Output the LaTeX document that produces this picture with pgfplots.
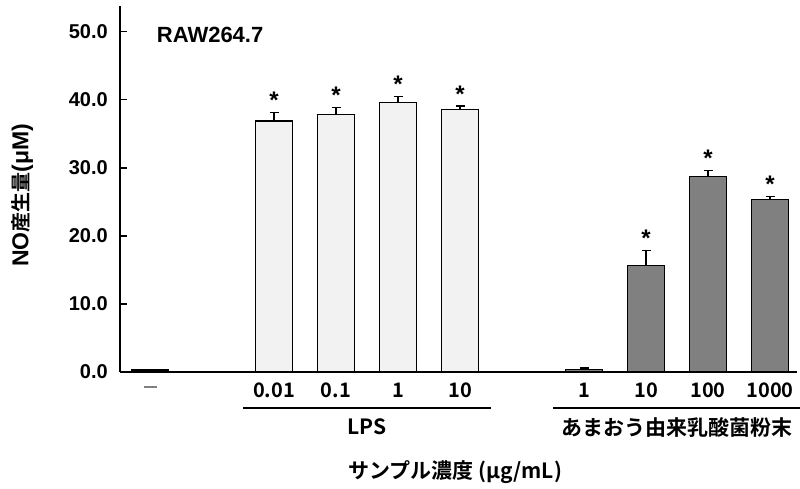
\documentclass[border=0pt]{standalone}
\usepackage{pgfplots}
\pgfplotsset{compat=1.18}
\usepackage{fontspec}
\newfontfamily\jp{Noto Sans CJK JP}[BoldFont={* Bold}]
\newfontfamily\ar{Liberation Sans}
\newcommand\fs{\fontsize{20}{22}\selectfont}
\newcommand\fj{\fontsize{21}{23}\selectfont}
\definecolor{lightbar}{HTML}{F2F2F2}
\definecolor{darkbar}{HTML}{808080}
\pgfplotsset{myerr/.style={
  error bars/y dir=plus, error bars/y explicit, error bars/error mark=|,
  error bars/error mark options={line width=1.2pt, mark size=4.5pt, black},
  error bars/error bar style={line width=1.2pt, black}}}
\begin{document}
\begin{tikzpicture}
\path[use as bounding box] (-120pt,-117pt) rectangle (680pt,372pt);
\begin{axis}[
  scale only axis, width=677pt, height=366pt,
  xmin=-0.484, xmax=10.435, ymin=0, ymax=53.8,
  axis x line*=bottom, axis y line*=left,
  axis line style={line width=1.2pt, -},
  ytick={0,10,20,30,40,50},
  yticklabels={0.0,10.0,20.0,30.0,40.0,50.0},
  yticklabel style={font=\ar\bfseries\fs, anchor=east, inner sep=0pt, xshift=-12pt},
  tick align=inside, major tick length=7pt,
  tick style={line width=1.2pt, black},
  xtick={0,2,3,4,5,7,8,9,10},
  xticklabels={{\color{gray}\rule[0.3em]{13pt}{1.5pt}},0.01,0.1,1,10,1,10,100,1000},
  xticklabel style={font=\jp\bfseries\fontsize{20}{22}\selectfont, anchor=center, inner sep=0pt, yshift=-18pt},
  major x tick style={draw=none},
  clip=false,
]
\addplot[ybar, bar width=37pt, fill=darkbar, draw=black, line width=1.2pt, myerr]
  coordinates {(0,0.3) +- (0,0.12)};
\addplot[ybar, bar width=37pt, fill=lightbar, draw=black, line width=1.2pt, myerr]
  coordinates {(2,36.9) +- (0,1.25) (3,37.9) +- (0,0.95) (4,39.6) +- (0,0.95) (5,38.6) +- (0,0.5)};
\addplot[ybar, bar width=37pt, fill=darkbar, draw=black, line width=1.2pt, myerr]
  coordinates {(7,0.4) +- (0,0.2) (8,15.6) +- (0,2.3) (9,28.7) +- (0,0.9) (10,25.4) +- (0,0.45)};
\addplot[draw=none, mark=none, forget plot,
  nodes near coords={*},
  every node near coord/.append style={font=\ar\bfseries\fontsize{24}{26}\selectfont, anchor=center, yshift=12pt, black}]
  coordinates {(2,38.15) (3,38.85) (4,40.55) (5,39.1) (8,17.9) (9,29.6) (10,25.85)};
\draw[line width=1.2pt] (axis cs:1.5,-5.29) -- (axis cs:5.5,-5.29);
\draw[line width=1.2pt] (axis cs:6.5,-5.29) -- (axis cs:10.48,-5.29);
\node[font=\jp\bfseries\fj] at (axis cs:3.5,-8.1) {LPS};
\node[font=\jp\bfseries\fj] at (axis cs:8.5,-8.1) {あまおう由来乳酸菌粉末};
\node[font=\jp\bfseries\fj] at (axis cs:4.92,-14.7) {サンプル濃度 (μg/mL)};
\node[rotate=90] at (axis cs:-2.06,26.0) {{\ar\bfseries\fontsize{23}{25}\selectfont NO}{\jp\bfseries\fontsize{20}{22}\selectfont 産生量}{\ar\bfseries\fontsize{23}{25}\selectfont (μM)}};
\node[font=\ar\bfseries\fontsize{22}{24}\selectfont] at (axis cs:0.97,49.6) {RAW264.7};
\end{axis}
\end{tikzpicture}
\end{document}
